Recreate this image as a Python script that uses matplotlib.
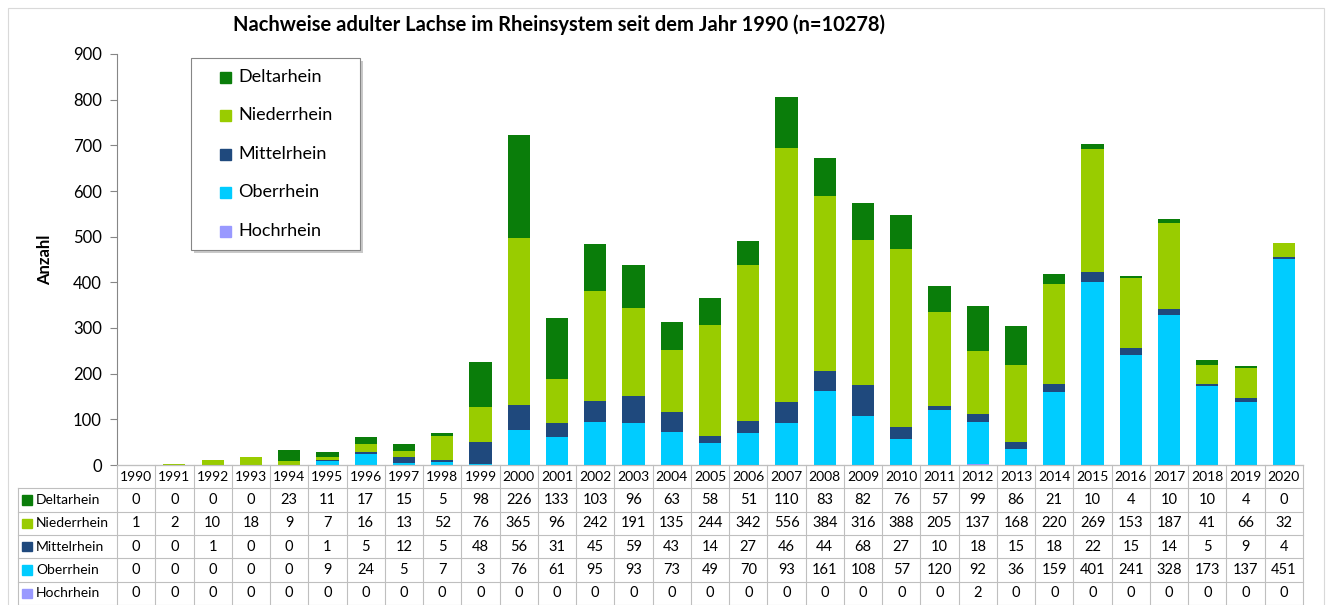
import numpy as np
import matplotlib.pyplot as plt
from matplotlib.patches import Rectangle

plt.rcParams['font.family'] = ['Lato', 'DejaVu Sans']

# Daten
jahre = [str(j) for j in range(1990, 2021)]
hochrhein = [0, 0, 0, 0, 0, 0, 0, 0, 0, 0, 0, 0, 0, 0, 0, 0, 0, 0, 0, 0, 0, 0, 2, 0, 0, 0, 0, 0, 0, 0, 0]
oberrhein = [0, 0, 0, 0, 0, 9, 24, 5, 7, 3, 76, 61, 95, 93, 73, 49, 70, 93, 161, 108, 57, 120, 92, 36, 159, 401, 241, 328, 173, 137, 451]
mittelrhein = [0, 0, 1, 0, 0, 1, 5, 12, 5, 48, 56, 31, 45, 59, 43, 14, 27, 46, 44, 68, 27, 10, 18, 15, 18, 22, 15, 14, 5, 9, 4]
niederrhein = [1, 2, 10, 18, 9, 7, 16, 13, 52, 76, 365, 96, 242, 191, 135, 244, 342, 556, 384, 316, 388, 205, 137, 168, 220, 269, 153, 187, 41, 66, 32]
deltarhein = [0, 0, 0, 0, 23, 11, 17, 15, 5, 98, 226, 133, 103, 96, 63, 58, 51, 110, 83, 82, 76, 57, 99, 86, 21, 10, 4, 10, 10, 4, 0]

# Reihenfolge von unten nach oben
serien = [('Hochrhein', hochrhein, '#9999FF'),
          ('Oberrhein', oberrhein, '#00CCFF'),
          ('Mittelrhein', mittelrhein, '#1F497D'),
          ('Niederrhein', niederrhein, '#99CC00'),
          ('Deltarhein', deltarhein, '#0A7D0A')]
reihen = ['Deltarhein', 'Niederrhein', 'Mittelrhein', 'Oberrhein', 'Hochrhein']
farben = {n: f for n, _, f in serien}
werte_d = {n: w for n, w, _ in serien}

W, H = 1333, 605
fig = plt.figure(figsize=(W / 100, H / 100), dpi=100)

def fx(px):
    return px / W

def fy(py):
    return 1 - py / H

x0, x1 = 117, 1303
y_top, y_bot = 54, 465
ax = fig.add_axes([fx(x0), fy(y_bot), (x1 - x0) / W, (y_bot - y_top) / H])

x = np.arange(len(jahre))
unten = np.zeros(len(jahre))
for name, werte, farbe in serien:
    ax.bar(x, werte, 0.58, bottom=unten, color=farbe, label=name)
    unten += np.array(werte)

ax.set_xlim(-0.5, len(jahre) - 0.5)
ax.set_ylim(0, 900)
ax.set_yticks(range(0, 901, 100))
ax.tick_params(axis='y', labelsize=12, length=5, color='#868686', pad=6)
ax.tick_params(axis='x', bottom=False, labelbottom=False)
for s in ['top', 'right']:
    ax.spines[s].set_visible(False)
ax.spines['left'].set_color('#868686')
ax.spines['bottom'].set_color('#868686')
ax.set_ylabel('Anzahl', fontsize=12, fontweight='bold', labelpad=14)

fig.text(fx(559), fy(25), 'Nachweise adulter Lachse im Rheinsystem seit dem Jahr 1990 (n=10278)',
         ha='center', va='center', fontsize=14.5, fontweight='bold')

# Legende (von Hand, mit Schatten)
lx0, lx1, ly0, ly1 = 191, 360, 58, 250
fig.patches.append(Rectangle((fx(lx0 + 3), fy(ly1 + 3)), (lx1 - lx0) / W, (ly1 - ly0) / H,
                             transform=fig.transFigure, facecolor='#A6A6A6',
                             edgecolor='none', alpha=0.6, zorder=5))
fig.patches.append(Rectangle((fx(lx0), fy(ly1)), (lx1 - lx0) / W, (ly1 - ly0) / H,
                             transform=fig.transFigure, facecolor='white',
                             edgecolor='#868686', lw=0.8, zorder=6))
for k, n in enumerate(reihen):
    yc = 77 + k * 38.5
    fig.patches.append(Rectangle((fx(220), fy(yc + 5.5)), 11 / W, 11 / H,
                                 transform=fig.transFigure, color=farben[n], zorder=7))
    fig.text(fx(238), fy(yc), n, ha='left', va='center', fontsize=13, zorder=8)

# Datentabelle
t_left = 18
tab = fig.add_axes([fx(t_left), 0, (x1 - t_left) / W, (H - y_bot) / H])
cw = (x1 - x0) / len(jahre)
lab_w = (x0 - t_left) / cw
tab.set_xlim(-0.5 - lab_w, len(jahre) - 0.5)
tab.set_ylim(6, 0)
tab.axis('off')
gc = '#BFBFBF'

tab.plot([-0.5, len(jahre) - 0.5], [0, 0], color=gc, lw=0.8, clip_on=False)
for r in range(1, 7):
    tab.plot([-0.5 - lab_w, len(jahre) - 0.5], [r, r], color=gc, lw=0.8, clip_on=False)
for i in range(len(jahre) + 1):
    tab.plot([i - 0.5, i - 0.5], [0, 6], color=gc, lw=0.8, clip_on=False)
tab.plot([-0.5 - lab_w, -0.5 - lab_w], [1, 6], color=gc, lw=0.8, clip_on=False)

for i, j in enumerate(jahre):
    tab.text(i, 0.5, j, ha='center', va='center', fontsize=10)

sq = 10 / cw
for r, n in enumerate(reihen):
    yc = r + 1.5
    tab.add_patch(Rectangle((-0.5 - lab_w + 4 / cw, yc - 0.2), sq, 0.4,
                            color=farben[n], clip_on=False))
    tab.text(-0.5 - lab_w + 18 / cw, yc, n, ha='left', va='center', fontsize=10)
    for i, v in enumerate(werte_d[n]):
        tab.text(i, yc, str(v), ha='center', va='center', fontsize=10.5)

# Rahmen des Diagrammbereichs
fig.patches.append(Rectangle((fx(8), -0.01), (1324 - 8) / W, 1.0 - 8 / H + 0.01,
                             transform=fig.transFigure, fill=False,
                             edgecolor='#D9D9D9', lw=0.8))

fig.savefig('out.png', dpi=100)
